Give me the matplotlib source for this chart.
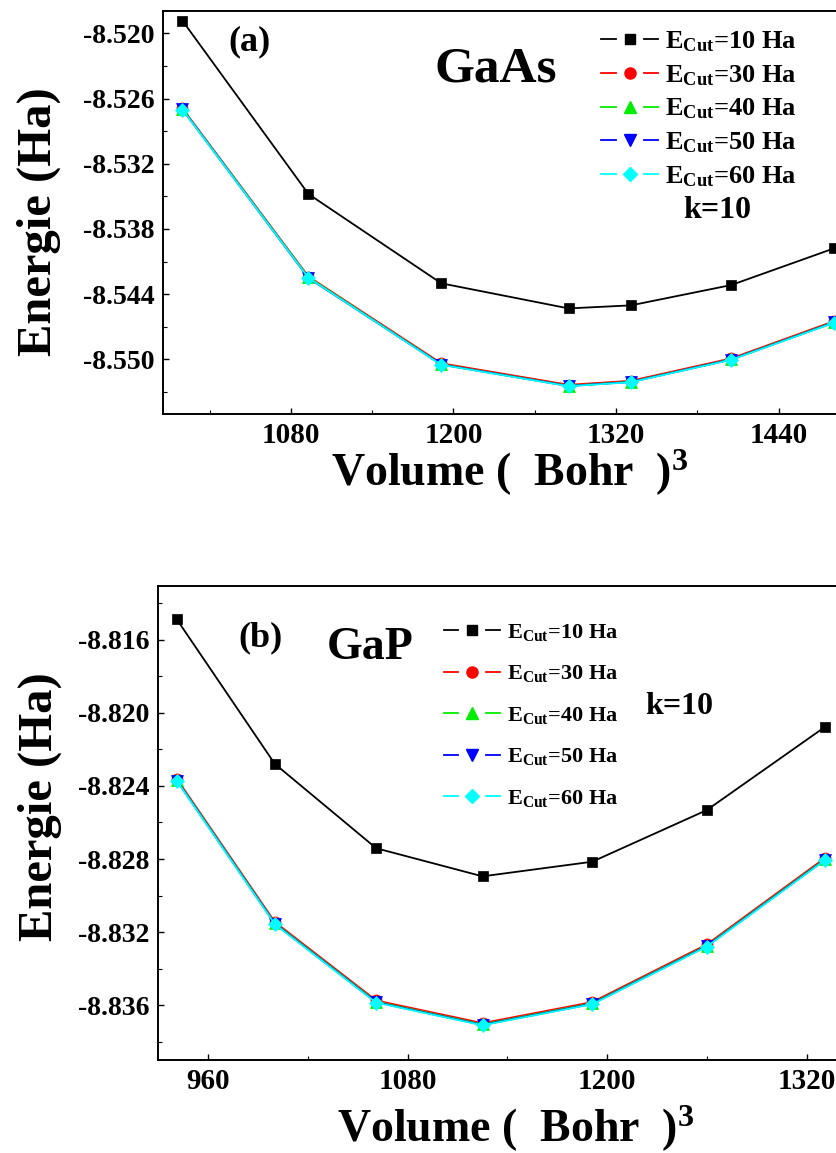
import matplotlib
matplotlib.use('Agg')
import matplotlib.pyplot as plt
from matplotlib.lines import Line2D
from matplotlib.legend_handler import HandlerBase
from matplotlib.ticker import MultipleLocator, FormatStrFormatter

plt.rcParams['font.family'] = ['Liberation Serif', 'DejaVu Serif']
plt.rcParams['font.weight'] = 'bold'
plt.rcParams['mathtext.fontset'] = 'custom'
plt.rcParams['mathtext.rm'] = 'Liberation Serif:bold'
plt.rcParams['mathtext.it'] = 'Liberation Serif:bold'
plt.rcParams['mathtext.bf'] = 'Liberation Serif:bold'

# GaAs : energie totale en fonction du volume (k=10)
vol_gaas = [1000, 1093, 1191, 1285, 1331, 1405, 1481]
gaas_e10 = [-8.51884, -8.53479, -8.54300, -8.54531, -8.54503, -8.54316, -8.53978]
gaas_e30 = [-8.52690, -8.54238, -8.55036, -8.55234, -8.55197, -8.54991, -8.54648]
gaas_e40 = [-8.52697, -8.54245, -8.55046, -8.55243, -8.55206, -8.55000, -8.54657]
gaas_e50 = [-8.52700, -8.54252, -8.55048, -8.55245, -8.55208, -8.55002, -8.54660]
gaas_e60 = [-8.52702, -8.54250, -8.55050, -8.55247, -8.55210, -8.55004, -8.54662]

# GaP
vol_gap = [941, 1000, 1061, 1125, 1191, 1260, 1331]
gap_e10 = [-8.81487, -8.82279, -8.82741, -8.82895, -8.82815, -8.82532, -8.82077]
gap_e30 = [-8.82360, -8.83145, -8.83575, -8.83699, -8.83584, -8.83268, -8.82795]
gap_e40 = [-8.82367, -8.83152, -8.83582, -8.83706, -8.83591, -8.83275, -8.82802]
gap_e50 = [-8.82370, -8.83155, -8.83585, -8.83709, -8.83594, -8.83278, -8.82805]
gap_e60 = [-8.82372, -8.83157, -8.83587, -8.83711, -8.83596, -8.83280, -8.82807]

cutoffs = [10, 30, 40, 50, 60]
colors = ['black', '#ff0000', '#00ee00', '#0000ff', '#00ffff']
markers = ['s', 'o', '^', 'v', 'D']
msizes = [7.5, 8, 8, 8, 7]


class GapHandler(HandlerBase):
    # ligne - symbole - ligne, avec un petit espace autour du symbole
    def create_artists(self, legend, orig_handle, xdescent, ydescent,
                       width, height, fontsize, trans):
        y = height / 2 - ydescent
        x0 = -xdescent
        gap = width * 0.25
        kw = dict(color=orig_handle.get_color(), lw=1.3)
        l1 = Line2D([x0, x0 + width / 2 - gap], [y, y], **kw)
        l2 = Line2D([x0 + width / 2 + gap, x0 + width], [y, y], **kw)
        m = Line2D([x0 + width / 2], [y], linestyle='none',
                   marker=orig_handle.get_marker(),
                   markersize=orig_handle.get_markersize(),
                   color=orig_handle.get_color())
        for a in (l1, l2, m):
            a.set_transform(trans)
        return [l1, l2, m]


def draw_panel(ax, vol, series, xlim, ylim, xmaj, ymaj):
    lines = []
    for e, c, mk, ms, cut in zip(series, colors, markers, msizes, cutoffs):
        ln, = ax.plot(vol, e, color=c, marker=mk, markersize=ms, lw=1.3,
                      markeredgewidth=0.5, label=r'E$_{\rm Cut}$=%d Ha' % cut)
        lines.append(ln)
    ax.set_xlim(*xlim)
    ax.set_ylim(*ylim)
    ax.xaxis.set_major_locator(MultipleLocator(xmaj))
    ax.xaxis.set_minor_locator(MultipleLocator(xmaj / 2))
    ax.yaxis.set_major_locator(MultipleLocator(ymaj))
    ax.yaxis.set_minor_locator(MultipleLocator(ymaj / 2))
    ax.yaxis.set_major_formatter(FormatStrFormatter('%.3f'))
    ax.tick_params(which='both', direction='in', top=False, right=False)
    ax.tick_params(which='major', length=4, width=1)
    ax.tick_params(which='minor', length=3, width=0.8)
    ax.tick_params(axis='x', labelsize=21, pad=6)
    ax.tick_params(axis='y', labelsize=20, pad=6)
    for s in ax.spines.values():
        s.set_linewidth(1.4)
    ax.set_xlabel(r'Volume (  Bohr  )$^{3}$', fontsize=33, fontweight='bold')
    ax.set_ylabel('Energie (Ha)', fontsize=35, fontweight='bold')
    ax.xaxis.label.set_va('center')
    ax.yaxis.label.set_va('center')
    return lines


fig = plt.figure(figsize=(8.37, 11.53), dpi=100)

ax1 = fig.add_axes([0.1947, 0.6409, 0.8327, 0.3495])
l1 = draw_panel(ax1, vol_gaas, [gaas_e10, gaas_e30, gaas_e40, gaas_e50, gaas_e60],
                (985.6, 1500), (-8.55503, -8.51795), 120, 0.006)
ax1.xaxis.set_label_coords(0.498, -0.146)
ax1.yaxis.set_label_coords(-0.178, 0.477)
ax1.text(0.124, 0.924, '(a)', transform=ax1.transAxes, fontsize=26,
         ha='center', va='center')
ax1.text(0.477, 0.854, 'GaAs', transform=ax1.transAxes, fontsize=37,
         ha='center', va='center')
ax1.text(0.795, 0.506, 'k=10', transform=ax1.transAxes, fontsize=23,
         ha='center', va='center')
ax1.legend(handles=l1, handler_map={Line2D: GapHandler()}, loc='upper left',
           bbox_to_anchor=(0.629, 0.955), frameon=False, fontsize=19,
           borderpad=0, borderaxespad=0, handlelength=2.15, handletextpad=0.25,
           labelspacing=0.35)

ax2 = fig.add_axes([0.1888, 0.0807, 0.8244, 0.4111])
l2 = draw_panel(ax2, vol_gap, [gap_e10, gap_e30, gap_e40, gap_e50, gap_e60],
                (929.7, 1345), (-8.83901, -8.81304), 120, 0.004)
ax2.xaxis.set_label_coords(0.519, -0.146)
ax2.yaxis.set_label_coords(-0.171, 0.534)
ax2.text(0.149, 0.890, '(b)', transform=ax2.transAxes, fontsize=26,
         ha='center', va='center')
ax2.text(0.307, 0.869, 'GaP', transform=ax2.transAxes, fontsize=33,
         ha='center', va='center')
ax2.text(0.755, 0.745, 'k=10', transform=ax2.transAxes, fontsize=23,
         ha='center', va='center')
ax2.legend(handles=l2, handler_map={Line2D: GapHandler()}, loc='upper left',
           bbox_to_anchor=(0.414, 0.924), frameon=False, fontsize=16,
           borderpad=0, borderaxespad=0, handlelength=2.55, handletextpad=0.3,
           labelspacing=0.92)

fig.savefig('out.png', dpi=100)
